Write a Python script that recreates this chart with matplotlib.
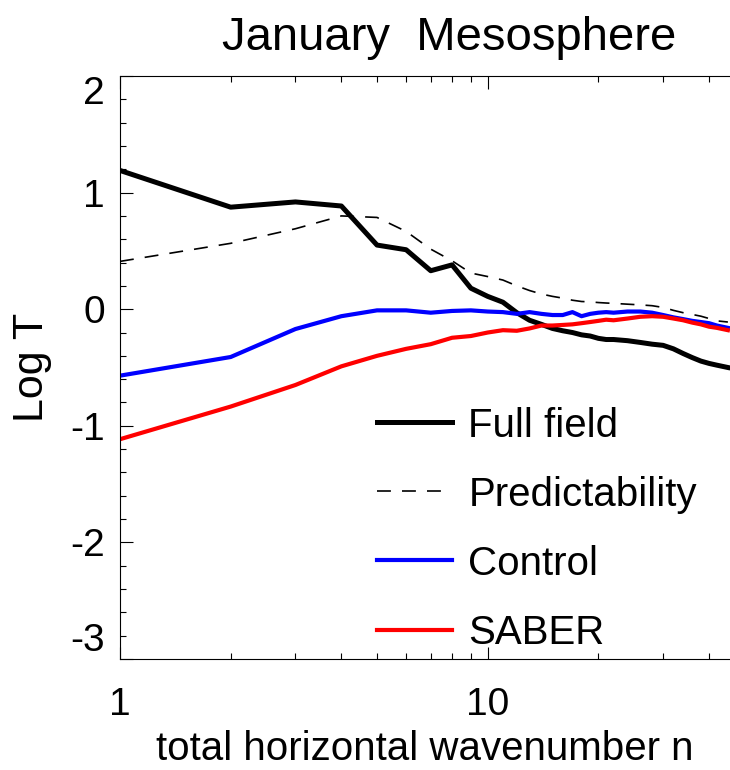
import matplotlib
matplotlib.use('Agg')
import matplotlib.pyplot as plt
from matplotlib import font_manager
from matplotlib.ticker import FixedLocator, NullFormatter, MultipleLocator

# narrow Helvetica-like face if present, else regular
names = set(f.name for f in font_manager.fontManager.ttflist)
if 'Liberation Sans Narrow' in names:
    face = 'Liberation Sans Narrow'
    sz = {'title': 40, 'tick': 32, 'xlab': 34, 'leg': 35}
else:
    face = 'Liberation Sans'
    sz = {'title': 34, 'tick': 28, 'xlab': 29, 'leg': 29}

plt.rcParams['axes.unicode_minus'] = False
plt.rcParams['lines.scale_dashes'] = False

# wavenumbers
n = [1, 2, 3, 4, 5, 6, 7, 8, 9, 10, 11, 12, 13, 14, 15, 16, 17, 18, 19, 20, 21,
     22, 24, 26, 28, 30, 32, 34, 36, 38, 40, 42, 45]

full_field = [1.19, 0.875, 0.92, 0.885, 0.55, 0.51, 0.33, 0.38, 0.18, 0.11, 0.06,
              -0.03, -0.095, -0.13, -0.165, -0.185, -0.20, -0.22, -0.23, -0.25, -0.26,
              -0.26, -0.27, -0.285, -0.30, -0.31, -0.34, -0.38, -0.415, -0.445, -0.465,
              -0.48, -0.50]

predictability = [0.41, 0.565, 0.69, 0.80, 0.787, 0.667, 0.515, 0.415, 0.31, 0.28, 0.25,
                  0.20, 0.16, 0.13, 0.11, 0.095, 0.077, 0.066, 0.063, 0.057, 0.053,
                  0.05, 0.043, 0.037, 0.03, 0.015, -0.01, -0.03, -0.045, -0.06, -0.08,
                  -0.10, -0.11]

control = [-0.57, -0.41, -0.17, -0.06, -0.01, -0.01, -0.03, -0.015, -0.01, -0.02, -0.025,
           -0.04, -0.025, -0.04, -0.05, -0.05, -0.025, -0.06, -0.04, -0.03, -0.025,
           -0.03, -0.02, -0.02, -0.03, -0.05, -0.07, -0.085, -0.10, -0.11, -0.12,
           -0.14, -0.16]

saber = [-1.115, -0.835, -0.65, -0.49, -0.40, -0.34, -0.30, -0.245, -0.23, -0.20, -0.18,
         -0.185, -0.165, -0.14, -0.14, -0.135, -0.13, -0.12, -0.11, -0.10, -0.09,
         -0.095, -0.08, -0.065, -0.06, -0.065, -0.08, -0.095, -0.115, -0.13, -0.15,
         -0.16, -0.18]

fig = plt.figure(figsize=(7.3, 7.7), dpi=100)
ax = fig.add_axes([120/730., 111/770., 610/730., 583/770.])

ax.plot(n, full_field, color='black', lw=3.6, label='Full field')
ax.plot(n, predictability, color='black', lw=1.2, dashes=(10, 8), label='Predictability')
ax.plot(n, control, color='#0000ff', lw=3.0, label='Control')
ax.plot(n, saber, color='#ff0000', lw=3.0, label='SABER')

ax.set_xscale('log')
ax.set_xlim(1, 45.6)
ax.set_ylim(-3, 2)

ax.xaxis.set_major_locator(FixedLocator([1, 10]))
ax.xaxis.set_minor_locator(FixedLocator([2, 3, 4, 5, 6, 7, 8, 9, 20, 30, 40]))
ax.xaxis.set_minor_formatter(NullFormatter())
ax.set_xticklabels(['1', '10'])
ax.yaxis.set_major_locator(FixedLocator([-3, -2, -1, 0, 1, 2]))
ax.yaxis.set_minor_locator(MultipleLocator(0.2))
ax.set_yticklabels(['-3', '-2', '-1', '0', '1', '2'])

ax.tick_params(which='both', direction='in', top=True, right=False, width=0.8, color='black')
ax.tick_params(which='major', length=9)
ax.tick_params(which='minor', length=4.5)
ax.tick_params(axis='x', pad=20)
ax.tick_params(axis='y', pad=11)
for lab in ax.get_xticklabels() + ax.get_yticklabels():
    lab.set_fontfamily(face)
    lab.set_fontsize(sz['tick'])
# end labels sit inside the axis range, as in the original
ylabs = ax.get_yticklabels()
ylabs[0].set_verticalalignment('bottom')
ylabs[-1].set_verticalalignment('top')

for side in ['left', 'bottom', 'top']:
    ax.spines[side].set_linewidth(0.8)
ax.spines['right'].set_visible(False)

ax.set_xlabel('total horizontal wavenumber n', fontfamily=face, fontsize=sz['xlab'], labelpad=5)
ax.set_ylabel('Log T', fontfamily='Liberation Sans', fontsize=31, labelpad=13)
fig.text(449/730., 1 - 50/770., 'January  Mesosphere', fontfamily=face, fontsize=sz['title'],
         ha='center', va='baseline')

leg = ax.legend(loc='upper left', bbox_to_anchor=(0.422, 0.433), frameon=False,
                prop={'family': face, 'size': sz['leg']}, handlelength=1.86,
                handletextpad=0.4, labelspacing=0.77, borderpad=0, borderaxespad=0)

plt.savefig('out.png', dpi=100)
plt.close(fig)
